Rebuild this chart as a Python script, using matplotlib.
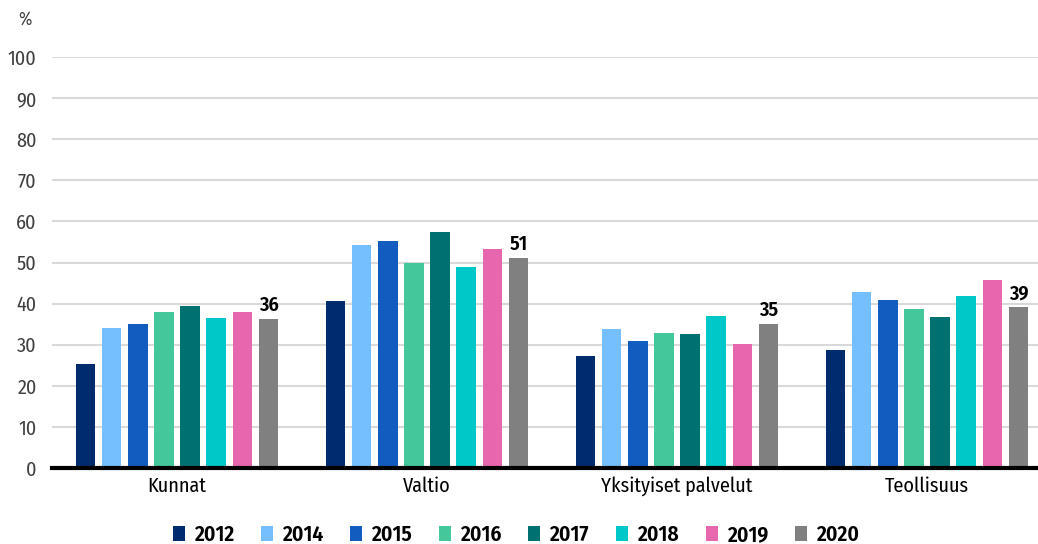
import matplotlib
matplotlib.use("Agg")
import matplotlib.pyplot as plt
import numpy as np

plt.rcParams['font.family'] = ['Fira Sans Condensed', 'DejaVu Sans']

categories = ["Kunnat", "Valtio", "Yksityiset palvelut", "Teollisuus"]
years = ["2012", "2014", "2015", "2016", "2017", "2018", "2019", "2020"]
values = {
    "2012": [25.3, 40.6, 27.2, 28.7],
    "2014": [34.1, 54.3, 33.7, 42.8],
    "2015": [35.1, 55.2, 31.0, 40.9],
    "2016": [38.0, 49.8, 32.8, 38.7],
    "2017": [39.3, 57.4, 32.5, 36.7],
    "2018": [36.5, 48.9, 37.0, 41.8],
    "2019": [37.9, 53.2, 30.1, 45.7],
    "2020": [36.2, 51.1, 35.1, 39.1],
}
labels_2020 = ["36", "51", "35", "39"]
colors = ["#002B6D", "#75BFFF", "#125BBF", "#44C79A", "#007070", "#00C8C8", "#E667AE", "#808080"]

fig = plt.figure(figsize=(10.38, 5.44), dpi=100)
ax = fig.add_axes([52/1038, 76/544, 986/1038, 411/544])

x = np.arange(len(categories))
pitch = 0.1046
width = 0.078
for i, yr in enumerate(years):
    pos = x + (i - 3.5) * pitch
    bars = ax.bar(pos, values[yr], width, color=colors[i], label=yr, zorder=3)
    if yr == "2020":
        for b, lab in zip(bars, labels_2020):
            ax.text(b.get_x() + b.get_width() / 2, b.get_height() + 1.0, lab,
                    ha="center", va="bottom", fontsize=14.5, fontweight="semibold", color="black")

ax.set_xlim(-0.5, -0.5 + 986/250)
ax.set_ylim(0, 100)
ax.set_yticks(range(0, 101, 10))
ax.yaxis.grid(True, color="#d9d9d9", linewidth=1.5, zorder=0)
ax.set_axisbelow(True)
for s in ["top", "right", "left"]:
    ax.spines[s].set_visible(False)
ax.spines["bottom"].set_linewidth(3)
ax.spines["bottom"].set_color("black")
ax.spines["bottom"].set_zorder(4)
ax.tick_params(axis="y", length=0, pad=11, labelsize=14.5, labelcolor="#404040")
ax.tick_params(axis="x", length=0, pad=6, labelsize=14.5)
ax.set_xticks(x)
ax.set_xticklabels(categories)
fig.text(18/1038, 1 - 20/544, "%", fontsize=13, color="#404040", ha="left", va="center")

leg = fig.legend(loc="center", bbox_to_anchor=(0.497, 1 - 535/544), ncol=8, frameon=False,
                 handlelength=0.56, handleheight=0.7, handletextpad=0.42, columnspacing=1.25,
                 prop={"size": 15.5, "weight": "semibold"})

fig.savefig("out.png", dpi=100)
